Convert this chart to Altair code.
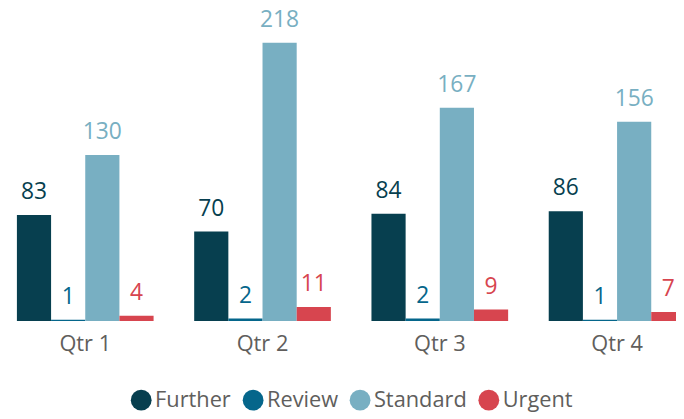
import altair as alt
import pandas as pd

quarters = ["Qtr 1", "Qtr 2", "Qtr 3", "Qtr 4"]
series = ["Further", "Review", "Standard", "Urgent"]
further = [83, 70, 84, 86]
review = [1, 2, 2, 1]
standard = [130, 218, 167, 156]
urgent = [4, 11, 9, 7]
colors = ["#073f4f", "#05668b", "#78afc2", "#d7454f"]

rows = []
for s, vals in zip(series, [further, review, standard, urgent]):
    for q, v in zip(quarters, vals):
        rows.append({"quarter": q, "series": s, "value": v})
df = pd.DataFrame(rows)

FONT = "Segoe UI, Open Sans, sans-serif"

x = alt.X("quarter:N", sort=quarters, title=None,
          scale=alt.Scale(paddingInner=0.229, paddingOuter=0.1145),
          axis=alt.Axis(labelAngle=0, labelFontSize=22, labelColor="#605e5c",
                        labelFont=FONT, labelPadding=13, domain=False, ticks=False,
                        grid=False))
xo = alt.XOffset("series:N", sort=series, scale=alt.Scale(paddingInner=0, paddingOuter=0))
y = alt.Y("value:Q", axis=None, scale=alt.Scale(domain=[0, 218], nice=False, zero=True))
color = alt.Color("series:N", sort=series,
                  scale=alt.Scale(domain=series, range=colors),
                  legend=alt.Legend(title=None, orient="none", direction="horizontal",
                                    legendX=135, legendY=350,
                                    symbolType="circle", symbolSize=441,
                                    symbolStrokeWidth=0, symbolOpacity=1,
                                    labelFontSize=22, labelColor="#605e5c", labelFont=FONT,
                                    labelOffset=3, columnPadding=11))

bars = alt.Chart(df).mark_bar().encode(x=x, xOffset=xo, y=y, color=color)
labels = alt.Chart(df).mark_text(baseline="alphabetic", dy=-16, fontSize=23, font=FONT).encode(
    x=x, xOffset=xo, y=y, text="value:Q",
    color=alt.Color("series:N", sort=series, scale=alt.Scale(domain=series, range=colors), legend=None))

chart = alt.layer(bars, labels).properties(
    width=716, height=281,
    autosize=alt.AutoSizeParams(type="none"),
    padding={"left": -11.5, "right": -30, "top": 33, "bottom": 92},
).configure_view(stroke=None)

chart.save("out.html", embed_options={"renderer": "svg", "actions": False})
